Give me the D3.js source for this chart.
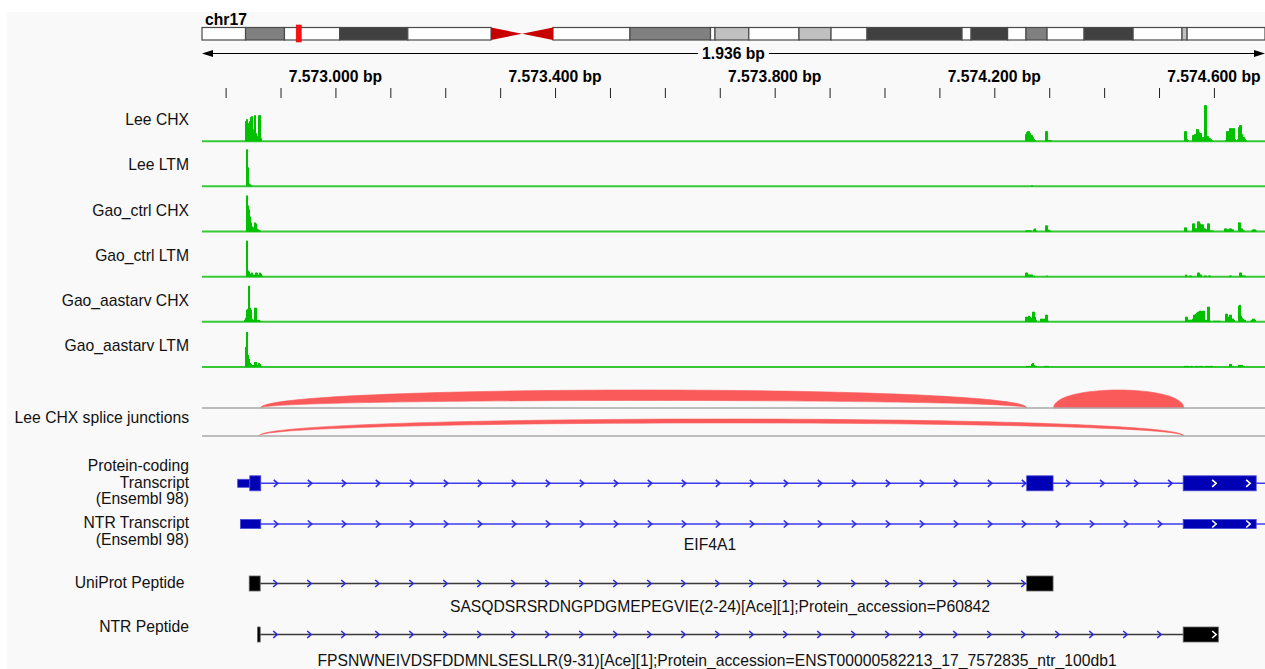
<!DOCTYPE html>
<html>
<head>
<meta charset="utf-8">
<title>EIF4A1 locus</title>
<script src="https://cdn.jsdelivr.net/npm/d3@7"></script>
<style>
  body { margin: 0; background: #fff; }
  svg { display: block; font-family: "Liberation Sans", Arial, sans-serif; }
</style>
</head>
<body>
<script>
// locus on screen
var chromName = 'chr17';
var viewStart = 7572757;
var viewEnd = 7574693;
var rulerTicks = d3.range(7572800, 7574700, 100);
var rulerLabels = [7573000, 7573400, 7573800, 7574200, 7574600];

// chr17 cytobands (Mb)
var chromLength = 83.26;
var bandStarts = [0, 3.41, 6.46, 10.78, 16.12, 22.64, 25.07, 27.49, 33.52, 39.83, 40.18, 42.83, 46.76, 49.27, 52.09, 59.53, 60.24, 63.10, 64.54, 66.19, 69.09, 72.93, 76.76, 77.16];
var bandEnds = [3.41, 6.46, 10.78, 16.12, 22.64, 25.07, 27.49, 33.52, 39.83, 40.18, 42.83, 46.76, 49.27, 52.09, 59.53, 60.24, 63.10, 64.54, 66.19, 69.09, 72.93, 76.76, 77.16, 83.26];
var bandStains = ['gneg', 'gpos50', 'gneg', 'gpos75', 'gneg', 'acen', 'acen', 'gneg', 'gpos50', 'gneg', 'gpos25', 'gneg', 'gpos25', 'gneg', 'gpos75', 'gneg', 'gpos75', 'gneg', 'gpos50', 'gneg', 'gpos75', 'gneg', 'gpos25', 'gneg'];

// coverage windows, values spread evenly over each window
var covStarts = [7572835, 7574257, 7574547, 7574620];
var covEnds = [7572868, 7574305, 7574612, 7574678];
var trackNames = ['Lee CHX', 'Lee LTM', 'Gao_ctrl CHX', 'Gao_ctrl LTM', 'Gao_aastarv CHX', 'Gao_aastarv LTM'];

var leeChx = [
  [0,20,22,14,18,20,24,25,12,9,26,8,5,5,26,26,3,0],
  [7,9,10,10,8,6,6,4,2,1,0,0,0,0,0,0,0,0,0,0,10,10,1,1,1,1],
  [10,10,2,1,0,0,0,0,6,6,7,7,12,12,9,8,8,4,4,4,36,36,5,5,3,3,2,1,0,0,0,0,0,0,0,0],
  [0,1,10,10,4,13,13,4,13,13,2,1,0,2,14,16,16,7,4,4,2,1,0,0,0,0,0,0,0,0,0,0]
];
var leeLtm = [
  [0,0,37,19,3,2,1,0,0,0,0,0,0,0,0,0,0,0],
  [0,0,0,0,0,0,1,0,0,0,0,0,0,0,0,0,0,0,0,0,0,0,0,0,0,0],
  [],
  []
];
var gaoCtrlChx = [
  [0,0,36,26,22,15,9,5,4,4,9,8,3,2,1,1,0,0],
  [1,1,1,1,1,1,0,0,2,3,1,0,0,0,0,0,0,0,0,0,6,6,2,1,1,0],
  [4,4,1,0,0,0,0,0,8,8,3,3,3,10,10,8,7,7,7,3,3,2,2,8,8,1,1,0,1,0,0,0,0,0,0,0],
  [3,3,2,2,2,3,3,2,2,0,0,0,0,0,9,9,3,3,1,1,0,0,0,0,0,0,0,1,2,2,2,1]
];
var gaoCtrlLtm = [
  [0,0,36,6,5,3,2,4,2,1,2,4,4,2,1,4,3,1],
  [4,4,2,2,2,2,2,0,1,0,0,0,0,0,0,0,0,0,0,0,0,1,0,0,0,0],
  [0,2,1,0,0,1,1,0,0,0,0,0,0,4,4,2,2,0,0,0,1,1,0,0,1,1,0,0,0,0,0,0,0,0,0,0],
  [0,0,0,0,0,1,1,0,0,0,0,0,0,0,0,4,4,1,1,1,1,0,0,0,0,0,0,0,0,0,0,0]
];
var gaoAaChx = [
  [2,4,12,13,36,14,12,3,2,2,14,14,2,1,2,1,0,0],
  [5,5,4,6,5,4,1,10,10,5,2,0,0,0,0,3,3,3,3,3,7,7,1,0,0,0],
  [0,5,5,2,2,2,2,2,3,7,7,8,9,10,10,11,11,2,11,11,2,2,1,15,15,1,0,0,0,1,1,0,1,1,0,1],
  [0,8,8,5,5,7,7,3,3,2,0,0,0,0,16,17,6,4,3,2,2,0,0,0,0,0,1,2,3,3,2,0]
];
var gaoAaLtm = [
  [0,20,35,12,8,4,3,2,2,2,5,5,2,2,4,3,1,0],
  [0,1,1,1,1,1,3,4,2,1,1,0,0,0,0,0,0,0,0,1,1,1,1,0,0,0],
  [1,1,1,1,0,0,1,1,0,0,0,1,1,0,0,1,1,1,0,0,0,1,1,1,0,1,1,1,0,0,0,0,0,0,0,0],
  [0,0,0,0,0,3,3,1,1,0,0,0,0,0,2,2,2,2,1,1,0,0,0,0,0,0,0,0,0,0,0,0]
];
var coverage = [leeChx, leeLtm, gaoCtrlChx, gaoCtrlLtm, gaoAaChx, gaoAaLtm];

// splice junctions
var junctionStarts = [7572864, 7574308, 7572861];
var junctionEnds = [7574259, 7574545, 7574545];
var junctionDepth = [58, 100, 22];
var junctionRow = [0, 0, 1];

// features
var geneName = 'EIF4A1';
var pcExons = [[7572822, 7572844], [7572844, 7572864], [7574259, 7574307], [7574544, 7574677]];
var pcCoding = [false, true, true, true];
var ntrExons = [[7572827, 7572864], [7574544, 7574677]];
var transcriptLineEnd = 7574730;
var uniPepExons = [[7572843, 7572863], [7574259, 7574307]];
var ntrPepExons = [[7572858, 7572863], [7574544, 7574608]];
var uniPepName = 'SASQDSRSRDNGPDGMEPEGVIE(2-24)[Ace][1];Protein_accession=P60842';
var ntrPepName = 'FPSNWNEIVDSFDDMNLSESLLR(9-31)[Ace][1];Protein_accession=ENST00000582213_17_7572835_ntr_100db1';

var W = 1265, H = 669, left = 202, right = 1265;
var FS = '15.7px';
var fmt = d3.formatLocale({decimal: ',', thousands: '.', grouping: [3], currency: ['', '']}).format(',');

var svg = d3.select('body').append('svg').attr('width', W).attr('height', H);
svg.append('rect').attr('x', 7).attr('y', 12).attr('width', W - 7).attr('height', H - 12).attr('fill', '#f9f9f9');
svg.append('clipPath').attr('id', 'clip').append('rect').attr('x', left).attr('y', 0).attr('width', right - left).attr('height', H);

var x = d3.scaleLinear().domain([viewStart, viewEnd]).range([left, right]);

// ideogram
svg.append('text').attr('x', 205).attr('y', 24.5).attr('font-size', FS).attr('font-weight', 'bold').text(chromName);
var xc = d3.scaleLinear().domain([0, chromLength]).range([left, right]);
var ideoY = 27.5, ideoH = 12.5;
var stainFill = {gneg: '#ffffff', gpos25: '#c0c0c0', gpos50: '#808080', gpos75: '#404040'};
var bands = bandStarts.map(function(s, i) { return {s: s, e: bandEnds[i], stain: bandStains[i]}; });
var ideo = svg.append('g');
ideo.selectAll('rect.band').data(bands.filter(function(b) { return b.stain !== 'acen'; })).join('rect')
    .attr('class', 'band')
    .attr('x', function(b) { return xc(b.s); })
    .attr('width', function(b) { return xc(b.e) - xc(b.s); })
    .attr('y', ideoY).attr('height', ideoH)
    .attr('fill', function(b) { return stainFill[b.stain]; })
    .attr('stroke', '#4a4a4a').attr('stroke-width', 1.2);
var cen = bands.filter(function(b) { return b.stain === 'acen'; });
ideo.selectAll('path.cen').data(cen).join('path')
    .attr('d', function(b, i) {
      var a = xc(b.s), c = xc(b.e), m = ideoY + ideoH / 2;
      return i === 0 ? 'M' + a + ',' + ideoY + 'L' + c + ',' + m + 'L' + a + ',' + (ideoY + ideoH) + 'Z'
                     : 'M' + a + ',' + m + 'L' + c + ',' + ideoY + 'L' + c + ',' + (ideoY + ideoH) + 'Z';
    })
    .attr('fill', '#c80000');
var here = xc((viewStart + viewEnd) / 2 / 1e6);
ideo.append('rect').attr('x', here - 2.5).attr('y', 25).attr('width', 5).attr('height', 17).attr('fill', '#ff1010').attr('stroke', '#d00').attr('stroke-width', 0.6);

// span arrow
var spanY = 53.5;
var spanText = svg.append('text').attr('x', (left + right) / 2).attr('y', 59).attr('text-anchor', 'middle')
    .attr('font-size', FS).attr('font-weight', 'bold').text(fmt(viewEnd - viewStart) + ' bp');
var tw = spanText.node().getComputedTextLength();
svg.append('line').attr('x1', left + 8).attr('x2', (left + right) / 2 - tw / 2 - 4).attr('y1', spanY).attr('y2', spanY).attr('stroke', '#000');
svg.append('line').attr('x1', (left + right) / 2 + tw / 2 + 4).attr('x2', right - 8).attr('y1', spanY).attr('y2', spanY).attr('stroke', '#000');
svg.append('path').attr('d', 'M' + left + ',' + spanY + 'l11,-3.5v7z').attr('fill', '#000');
svg.append('path').attr('d', 'M' + right + ',' + spanY + 'l-11,-3.5v7z').attr('fill', '#000');

// ruler
var axis = d3.axisBottom(x).tickValues(rulerTicks).tickSize(10).tickFormat('');
var ax = svg.append('g').attr('transform', 'translate(0,88)').call(axis);
ax.select('.domain').remove();
ax.selectAll('line').attr('stroke', '#222');
svg.selectAll('text.rl').data(rulerLabels).join('text').attr('class', 'rl')
    .attr('x', function(d) { return x(d); }).attr('y', 82)
    .attr('text-anchor', 'middle').attr('font-size', FS).attr('font-weight', 'bold')
    .text(function(d) { return fmt(d) + ' bp'; });

var plot = svg.append('g').attr('clip-path', 'url(#clip)');

function label(txt, xr, y) {
  svg.append('text').attr('x', xr).attr('y', y).attr('text-anchor', 'end')
     .attr('font-size', FS).attr('fill', '#111').text(txt);
}

// coverage tracks
coverage.forEach(function(track, t) {
  var base = 141.2 + t * 45.15;
  var y = d3.scaleLinear().domain([0, 40]).range([base, base - 40]);
  var bins = [];
  track.forEach(function(vals, w) {
    var step = (covEnds[w] - covStarts[w]) / vals.length;
    vals.forEach(function(v, k) {
      if (v > 0) bins.push({s: covStarts[w] + k * step, e: covStarts[w] + (k + 1) * step, v: v});
    });
  });
  var g = plot.append('g');
  g.append('line').attr('x1', left).attr('x2', right).attr('y1', base).attr('y2', base)
   .attr('stroke', '#36c936').attr('stroke-width', 2);
  g.selectAll('rect').data(bins).join('rect')
   .attr('x', function(d) { return Math.floor(x(d.s)); })
   .attr('width', function(d) { return Math.max(1, Math.round(x(d.e)) - Math.floor(x(d.s))); })
   .attr('y', function(d) { return y(d.v); })
   .attr('height', function(d) { return base - y(d.v); })
   .attr('fill', '#00c000');
  label(trackNames[t], 189, base - 16);
});

// splice junctions
var rowBase = [408, 436];
svg.selectAll('line.jl').data(rowBase).join('line').attr('class', 'jl')
   .attr('x1', left).attr('x2', right).attr('y1', function(d) { return d; }).attr('y2', function(d) { return d; })
   .attr('stroke', '#a9a9a9').attr('stroke-width', 1.5);
var arcH = 18;
var thick = d3.scaleLinear().domain([0, 100]).range([0, arcH]).clamp(true);
function arcPath(x1, x2, b, ho, hi) {
  var co = ho * 4 / 3, ci = hi * 4 / 3;
  return 'M' + x1 + ',' + b + 'C' + x1 + ',' + (b - co) + ' ' + x2 + ',' + (b - co) + ' ' + x2 + ',' + b +
         'C' + x2 + ',' + (b - ci) + ' ' + x1 + ',' + (b - ci) + ' ' + x1 + ',' + b + 'Z';
}
plot.selectAll('path.junc').data(junctionStarts).join('path').attr('class', 'junc')
    .attr('d', function(s, i) {
      var b = rowBase[junctionRow[i]];
      var ho = junctionRow[i] === 0 ? arcH : arcH - 1;
      return arcPath(x(s), x(junctionEnds[i]), b, ho, Math.max(0, ho - thick(junctionDepth[i])));
    })
    .attr('fill', '#fa5a5a').attr('stroke', '#fa5a5a').attr('stroke-width', 0.6);
label('Lee CHX splice junctions', 189, 422.5);

// gene features
function feature(exons, heights, lineEnd, yc, col) {
  var g = plot.append('g');
  var x0 = x(exons[0][0]);
  var x1 = x(lineEnd);
  g.append('line').attr('x1', x0).attr('x2', x1).attr('y1', yc).attr('y2', yc)
   .attr('stroke', col.line).attr('stroke-width', 1.5);
  g.selectAll('rect').data(exons).join('rect')
   .attr('x', function(d) { return x(d[0]); })
   .attr('width', function(d) { return x(d[1]) - x(d[0]); })
   .attr('y', function(d, i) { return yc - heights[i] / 2; })
   .attr('height', function(d, i) { return heights[i]; })
   .attr('fill', col.fill).attr('stroke', col.edge).attr('stroke-width', 0.8);
  var marks = [];
  exons.forEach(function(d, i) {
    var a = x(d[1]);
    var b = i < exons.length - 1 ? x(exons[i + 1][0]) : x1;
    for (var p = a + 15; p <= b - 2; p += 34) marks.push({p: p, c: col.arrow});
    for (var q = x(d[0]) + 31; q < x(d[1]) - 3; q += 34) marks.push({p: q, c: '#fff'});
  });
  g.selectAll('path').data(marks).join('path')
   .attr('d', function(m) { return 'M' + (m.p - 2) + ',' + (yc - 3.5) + 'L' + (m.p + 2) + ',' + yc + 'L' + (m.p - 2) + ',' + (yc + 3.5); })
   .attr('fill', 'none').attr('stroke', function(m) { return m.c; }).attr('stroke-width', 1.6);
}
var blue = {line: '#3c3cf0', fill: '#0000b4', edge: '#4a4ad6', arrow: '#2a2ae8'};
var black = {line: '#3a3a3a', fill: '#000', edge: '#666', arrow: '#2a2ae8'};

feature(pcExons, pcCoding.map(function(c) { return c ? 15 : 8; }), transcriptLineEnd, 483.3, blue);
feature(ntrExons, [9, 9], transcriptLineEnd, 524, blue);
feature(uniPepExons, [15, 15], uniPepExons[1][0], 583.5, black);
feature(ntrPepExons, [15, 15], ntrPepExons[1][0], 634.5, black);

label('Protein-coding', 189, 471);
label('Transcript', 189, 487.5);
label('(Ensembl 98)', 189, 504);
label('NTR Transcript', 189, 528);
label('(Ensembl 98)', 189, 544.5);
label('UniProt Peptide', 184.5, 588);
label('NTR Peptide', 189, 632);

function caption(txt, xm, y) {
  svg.append('text').attr('x', xm).attr('y', y).attr('text-anchor', 'middle')
     .attr('font-size', FS).attr('fill', '#111').text(txt);
}
caption(geneName, 710, 550);
caption(uniPepName, 720, 612);
caption(ntrPepName, 717, 666);
</script>
</body>
</html>
